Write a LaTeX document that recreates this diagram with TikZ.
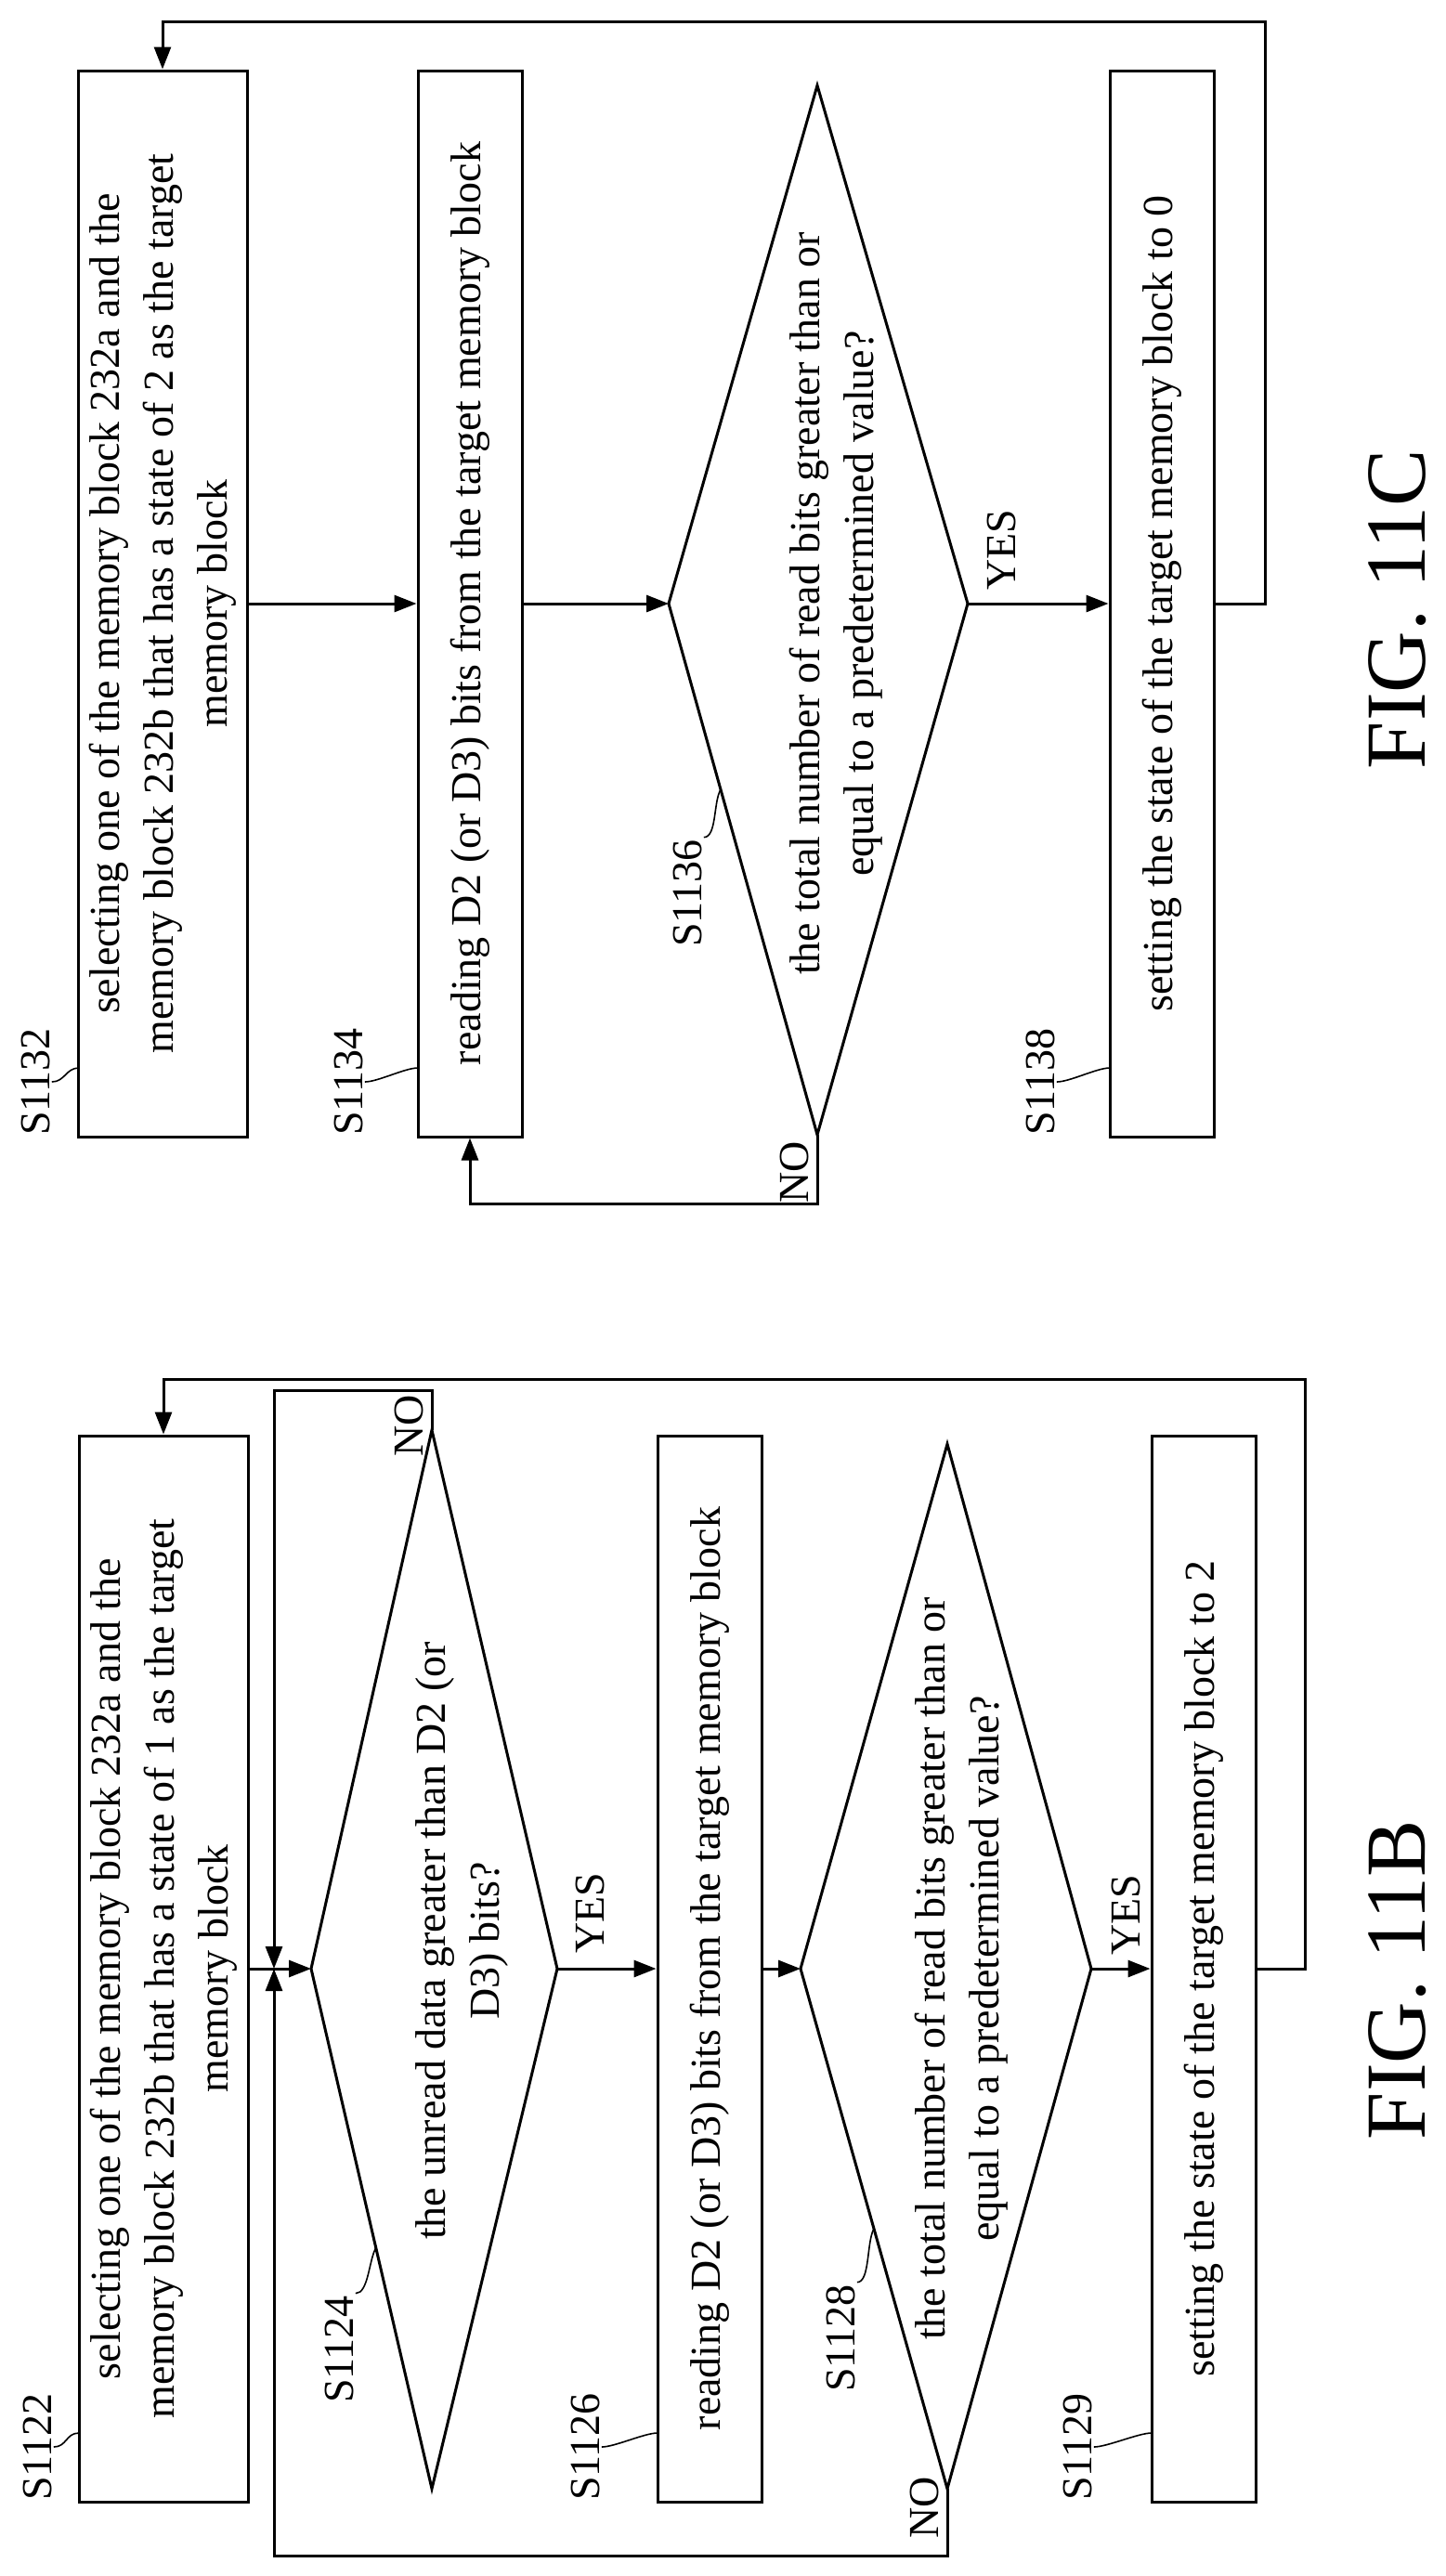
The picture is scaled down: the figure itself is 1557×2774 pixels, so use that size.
\documentclass[tikz,border=0pt]{standalone}
\usepackage{fontspec}
\setmainfont{Liberation Serif}
\usetikzlibrary{arrows.meta, calc}

\tikzset{
    stepbox/.style={draw, line width=1.5pt, rotate=90, align=center, inner sep=0pt,
        minimum width=574pt, font=\fontsize{23}{29}\selectfont},
    widebox/.style={stepbox, minimum height=91pt},
    narrowbox/.style={stepbox, minimum height=56pt},
    txt/.style={rotate=90, align=center, font=\fontsize{23}{29}\selectfont},
    lbl/.style={rotate=90, inner sep=1pt, font=\fontsize{23}{26}\selectfont},
    figlbl/.style={rotate=90, font=\fontsize{46}{50}\selectfont},
    arr/.style={line width=1.5pt, -{Triangle[length=12pt, width=9pt]}},
    edge/.style={line width=1.5pt},
    tilde/.style={line width=0.8pt}
}

\begin{document}
\begin{tikzpicture}[x=0.5pt, y=-0.5pt]
    \useasboundingbox (0,0) rectangle (1557,2774);

    % FIG. 11C
    \node[widebox] (s1132) at (175,650) {selecting one of the memory block 232a and the\\ memory block 232b that has a state of 2 as the target\\ memory block};
    \node[narrowbox] (s1134) at (506,650) {reading D2 (or D3) bits from the target memory block};
    \coordinate (d1136l) at (720,650);
    \coordinate (d1136r) at (1042,650);
    \coordinate (d1136t) at (880,92);
    \coordinate (d1136b) at (880,1222);
    \draw[edge] (d1136l) -- (d1136t) -- (d1136r) -- (d1136b) -- cycle;
    \node[txt] (t1136) at (900,650) {the total number of read bits greater than or\\ equal to a predetermined value?};
    \node[narrowbox] (s1138) at (1251,650) {setting the state of the target memory block to 0};

    \draw[arr] (s1132.south) -- (s1134.north);
    \draw[arr] (s1134.south) -- (d1136l);
    \draw[arr] (d1136r) -- (s1138.north);
    \draw[arr] (s1138.south) -| (1362,23) -| (s1132.east);
    \draw[arr] (d1136b) -- (880,1296) -| (s1134.west);
    \node[lbl] (yes1136) at (1078,592) {YES};
    \node[lbl] (no1136) at (855,1262) {NO};

    % step labels 11C
    \node[lbl] (l1132) at (38,1165) {S1132};
    \node[lbl] (l1134) at (375,1165) {S1134};
    \node[lbl] (l1136) at (740,962) {S1136};
    \node[lbl] (l1138) at (1120,1165) {S1138};
    \coordinate (e1132) at (85,1150);
    \coordinate (e1134) at (450,1150);
    \coordinate (e1136) at (776,850);
    \coordinate (e1138) at (1195,1150);
    \draw[tilde] (l1132.south) .. controls +(14,0) and +(-14,0) .. (e1132);
    \draw[tilde] (l1134.south) .. controls +(14,0) and +(-14,0) .. (e1134);
    \draw[tilde] (l1136.south east) .. controls +(14,0) and +(-8,14) .. (e1136);
    \draw[tilde] (l1138.south) .. controls +(14,0) and +(-14,0) .. (e1138);

    \node[figlbl] (fig11c) at (1505,656) {FIG. 11C};

    % FIG. 11B
    \node[widebox] (s1122) at (176,2120) {selecting one of the memory block 232a and the\\ memory block 232b that has a state of 1 as the target\\ memory block};
    \coordinate (d1124l) at (335,2120);
    \coordinate (d1124r) at (600,2120);
    \coordinate (d1124t) at (465,1540);
    \coordinate (d1124b) at (465,2680);
    \draw[edge] (d1124l) -- (d1124t) -- (d1124r) -- (d1124b) -- cycle;
    \node[txt] (t1124) at (497,2090) {the unread data greater than D2 (or\\ D3) bits?};
    \node[narrowbox] (s1126) at (764,2120) {reading D2 (or D3) bits from the target memory block};
    \coordinate (d1128l) at (862,2120);
    \coordinate (d1128r) at (1175,2120);
    \coordinate (d1128t) at (1020,1555);
    \coordinate (d1128b) at (1020,2680);
    \draw[edge] (d1128l) -- (d1128t) -- (d1128r) -- (d1128b) -- cycle;
    \node[txt] (t1128) at (1035,2120) {the total number of read bits greater than or\\ equal to a predetermined value?};
    \node[narrowbox] (s1129) at (1296,2120) {setting the state of the target memory block to 2};
    \coordinate (j1124) at (295,2120);

    \draw[arr] (s1122.south) -- (d1124l);
    \draw[arr] (d1124t) -- (465,1497) -| (j1124);
    \draw[arr] (d1128b) -- (1020,2752) -| (j1124);
    \draw[arr] (d1124r) -- (s1126.north);
    \draw[arr] (s1126.south) -- (d1128l);
    \draw[arr] (d1128r) -- (s1129.north);
    \draw[arr] (s1129.south) -| (1405,1485) -| (s1122.east);
    \node[lbl] (yes1124) at (635,2060) {YES};
    \node[lbl] (no1124) at (440,1535) {NO};
    \node[lbl] (yes1128) at (1212,2062) {YES};
    \node[lbl] (no1128) at (995,2700) {NO};

    % step labels 11B
    \node[lbl] (l1122) at (40,2635) {S1122};
    \node[lbl] (l1124) at (365,2530) {S1124};
    \node[lbl] (l1126) at (630,2635) {S1126};
    \node[lbl] (l1128) at (905,2518) {S1128};
    \node[lbl] (l1129) at (1160,2635) {S1129};
    \coordinate (e1122) at (85,2620);
    \coordinate (e1124) at (405,2420);
    \coordinate (e1126) at (708,2620);
    \coordinate (e1128) at (941,2400);
    \coordinate (e1129) at (1240,2620);
    \draw[tilde] (l1122.south) .. controls +(14,0) and +(-14,0) .. (e1122);
    \draw[tilde] (l1124.south east) .. controls +(14,0) and +(-8,14) .. (e1124);
    \draw[tilde] (l1126.south) .. controls +(14,0) and +(-14,0) .. (e1126);
    \draw[tilde] (l1128.south east) .. controls +(14,0) and +(-8,14) .. (e1128);
    \draw[tilde] (l1129.south) .. controls +(14,0) and +(-14,0) .. (e1129);

    \node[figlbl] (fig11b) at (1505,2132) {FIG. 11B};
\end{tikzpicture}
\end{document}
